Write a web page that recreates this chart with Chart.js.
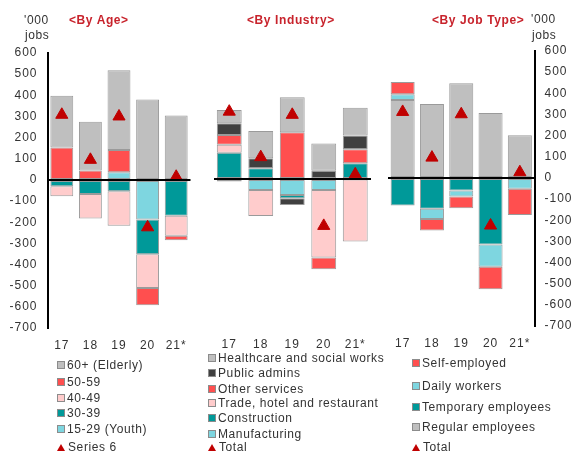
<!DOCTYPE html>
<html>
<head>
<meta charset="utf-8">
<script src="https://cdn.jsdelivr.net/npm/chart.js@4.4.1/dist/chart.umd.min.js"></script>
<style>
body { margin: 0; background: #fff; font-family: "Liberation Sans", Arial, sans-serif; }
#app { position: relative; width: 572px; height: 456px; overflow: hidden; }
canvas { position: absolute; }
.txt { position: absolute; font-size: 12px; color: #333; white-space: nowrap; line-height: 14px; letter-spacing: 0.6px; }
.ttl { position: absolute; font-size: 12px; font-weight: bold; color: #C8232C; white-space: nowrap; line-height: 14px; letter-spacing: 0.6px; }
.lg { position: absolute; font-size: 12px; color: #333; white-space: nowrap; line-height: 14px; letter-spacing: 0.6px; }
.box { display: inline-block; width: 6px; height: 6px; border: 1px solid #8c8c8c; margin-right: 2px; }
.tri { display: inline-block; width: 0; height: 0; border-left: 4px solid transparent; border-right: 4px solid transparent; border-bottom: 7px solid #C00000; margin-right: 3px; }
</style>
</head>
<body>
<div id="app"></div>
<script>
const app = document.getElementById("app")

const years = ["17", "18", "19", "20", "21*"]
const yMin = -700
const yMax = 600
const yStep = 100

// <By Age>  (stack order from the zero line outwards)
const ageNames = ["15-29 (Youth)", "30-39", "40-49", "50-59", "60+ (Elderly)"]
const age1529 = [0, 0, 36, -187, 0]
const age3039 = [-30, -66, -54, -164, -169]
const age4049 = [-47, -116, -163, -160, -95]
const age5059 = [153, 44, 106, -82, -21]
const age60 = [245, 231, 376, 380, 305]
const ageTotal = [308, 95, 300, -224, 15]

// <By Industry>
const indNames = ["Manufacturing", "Construction", "Trade, hotel and restaurant", "Other services", "Public admins", "Healthcare and social works"]
const manufacturing = [-12, -52, -76, -52, -3]
const construction = [124, 51, -15, 0, 74]
const trade = [37, -123, 0, -320, -293]
const otherServices = [47, 0, 221, -55, 66]
const publicAdmins = [55, 47, -32, 39, 65]
const healthcare = [63, 129, 165, 128, 131]
const indTotal = [318, 103, 303, -222, 22]

// <By Job Type>
const jobNames = ["Regular employees", "Temporary employees", "Daily workers", "Self-employed"]
const regular = [368, 350, 447, 307, 202]
const temporary = [-130, -146, -59, -315, 0]
const daily = [28, -48, -29, -105, -51]
const selfEmployed = [57, -55, -55, -106, -124]
const jobTotal = [312, 96, 301, -225, 27]

const grey = "#BFBFBF", red = "#FF4F4F", pink = "#FFCCCC", teal = "#009999", cyan = "#7ED6E0", dark = "#404040"
const triColor = "#C00000"
const font = "'Liberation Sans', Arial, sans-serif"

// wider tick text, like the reference
const spacing = {
    id: 'spacing',
    beforeDraw: function(chart){ chart.ctx.letterSpacing = '1px' }
}

function main(){
    createPanel({
        x: 0, y: 0, w: 200, padL: 0, padR: 9.5, axis: "left", axisW: 47.5, barPct: 0.8,
        names: ageNames, values: [age1529, age3039, age4049, age5059, age60],
        colors: [cyan, teal, pink, red, grey], total: ageTotal, totalName: "Series 6",
        legendX: 57, legendRows: [365, 381.7, 398.3, 413.3, 429.3, 446.7]
    })
    createPanel({
        x: 200, y: -1, w: 180, padL: 13.5, padR: 9, axis: null, axisW: 0, barPct: 0.79,
        names: indNames, values: [manufacturing, construction, trade, otherServices, publicAdmins, healthcare],
        colors: [cyan, teal, pink, red, dark, grey], total: indTotal, totalName: "Total",
        legendX: 208, legendRows: [358.3, 373.3, 389.3, 403.3, 418.3, 434, 447.3]
    })
    createPanel({
        x: 380, y: -2, w: 192, padL: 7.6, padR: 0, axis: "right", axisW: 37.5, barPct: 0.82,
        names: jobNames, values: [regular, temporary, daily, selfEmployed],
        colors: [grey, teal, cyan, red], total: jobTotal, totalName: "Total",
        legendX: 412, legendRows: [363.3, 386, 407.3, 427.3, 447.3]
    })

    addText("txt", "'000", 24, 13)
    addText("txt", "jobs", 25, 28)
    addText("txt", "'000", 531, 12)
    addText("txt", "jobs", 532, 28)
    addText("ttl", "<By Age>", 69, 13)
    addText("ttl", "<By Industry>", 247, 13)
    addText("ttl", "<By Job Type>", 432, 13)
}

function addText(cls, text, x, y){
    var d = document.createElement("div")
    d.className = cls
    d.textContent = text
    d.style.left = x + "px"
    d.style.top = y + "px"
    app.appendChild(d)
}

function createPanel(cfg){
    var canvas = document.createElement("canvas")
    canvas.width = cfg.w
    canvas.height = 365
    canvas.style.left = cfg.x + "px"
    canvas.style.top = cfg.y + "px"
    app.appendChild(canvas)

    var datasets = cfg.values.map(function(v, i){
        return {
            type: 'bar', label: cfg.names[i], data: v,
            backgroundColor: cfg.colors[i], borderColor: '#9a9a9a', borderWidth: 1,
            borderSkipped: false, barPercentage: cfg.barPct, categoryPercentage: 1
        }
    })
    datasets.push({
        type: 'line', label: cfg.totalName, data: cfg.total, showLine: false,
        pointStyle: 'triangle', pointRadius: 7, pointBackgroundColor: triColor,
        pointBorderColor: triColor, pointBorderWidth: 1, order: -1
    })

    new Chart(canvas.getContext("2d"), {
        type: 'bar',
        data: { labels: years, datasets: datasets },
        plugins: [spacing],
        options: {
            responsive: false,
            animation: false,
            layout: { padding: { left: cfg.padL, right: cfg.padR, top: 53, bottom: 0 } },
            plugins: { legend: { display: false }, tooltip: { enabled: false } },
            scales: {
                x: {
                    stacked: true,
                    grid: { display: false, drawTicks: false },
                    border: { display: false },
                    ticks: { color: '#333', font: { size: 12, family: font }, padding: 10, maxRotation: 0, autoSkip: false },
                    afterFit: function(s){ s.height = 37 }
                },
                y: {
                    stacked: true,
                    position: cfg.axis || 'left',
                    min: yMin, max: yMax,
                    ticks: { display: !!cfg.axis, stepSize: yStep, color: '#333', font: { size: 12, family: font }, padding: 10 },
                    grid: {
                        color: function(c){ return c.tick && c.tick.value === 0 ? '#000' : 'rgba(0,0,0,0)' },
                        lineWidth: 2, drawTicks: false, z: 1
                    },
                    border: { display: !!cfg.axis, color: '#000', width: 2, z: 2 },
                    afterFit: function(s){ s.width = cfg.axisW }
                }
            }
        }
    })

    // legend, top item = last stacked series
    for (var i = cfg.names.length - 1; i >= 0; i--){
        var row = cfg.names.length - 1 - i
        var d = document.createElement("div")
        d.className = "lg"
        d.style.left = cfg.legendX + "px"
        d.style.top = (cfg.legendRows[row] - 7) + "px"
        var b = document.createElement("span")
        b.className = "box"
        b.style.background = cfg.colors[i]
        d.appendChild(b)
        d.appendChild(document.createTextNode(cfg.names[i]))
        app.appendChild(d)
    }
    var t = document.createElement("div")
    t.className = "lg"
    t.style.left = cfg.legendX + "px"
    t.style.top = (cfg.legendRows[cfg.names.length] - 7) + "px"
    var s = document.createElement("span")
    s.className = "tri"
    t.appendChild(s)
    t.appendChild(document.createTextNode(cfg.totalName))
    app.appendChild(t)
}

main()
</script>
</body>
</html>
